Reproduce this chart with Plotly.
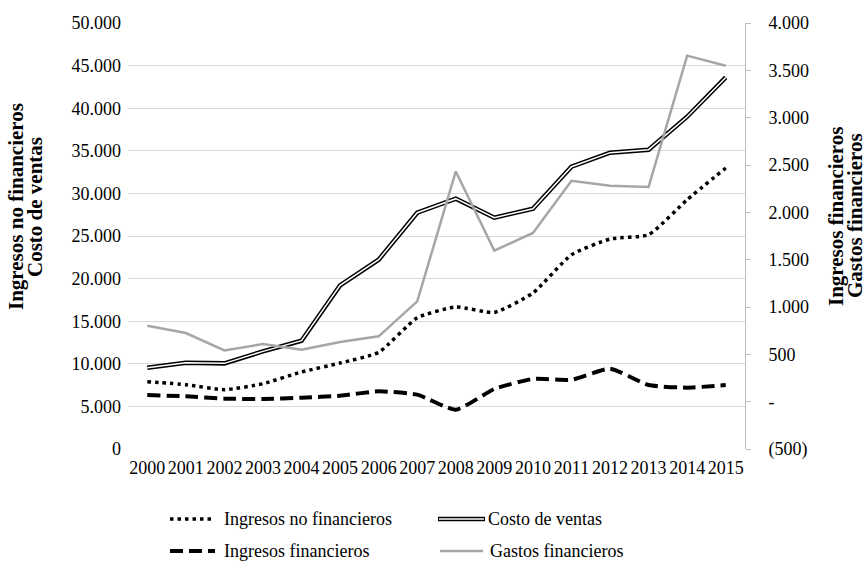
import plotly.graph_objects as go

years = [str(y) for y in range(2000, 2016)]
ingresos_no_fin = [7900, 7550, 6960, 7660, 9040, 10090, 11340, 15400, 16670, 16030, 18310, 22800, 24650, 25150, 29260, 32980]
costo_ventas = [9540, 10130, 10050, 11460, 12710, 19200, 22220, 27730, 29380, 27150, 28200, 33130, 34780, 35130, 39000, 43610]
ingresos_fin = [71, 56, 32, 28, 42, 63, 109, 74, -85, 134, 240, 232, 348, 176, 148, 176]
gastos_fin = [803, 725, 542, 609, 549, 630, 690, 1059, 2432, 1595, 1782, 2334, 2281, 2268, 3655, 3549]

left_ticks = list(range(0, 50001, 5000))
left_text = ["0"] + [f"{v:,}".replace(",", ".") for v in left_ticks[1:]]
right_ticks = list(range(-500, 4001, 500))
right_text = ["(500)", "-"] + [f"{v:,}".replace(",", ".") for v in right_ticks[2:]]

FONT = "Liberation Serif, Times New Roman, DejaVu Serif, serif"
GRAY = "#a6a6a6"

fig = go.Figure()
fig.add_trace(go.Scatter(x=years, y=ingresos_no_fin, mode="lines", name="Ingresos no financieros",
                         line=dict(color="black", width=3.5, dash="3.5px,4px", shape="spline", smoothing=0.5),
                         showlegend=False))
fig.add_trace(go.Scatter(x=years, y=costo_ventas, mode="lines", name="Costo de ventas",
                         line=dict(color="black", width=4.5), showlegend=False))
fig.add_trace(go.Scatter(x=years, y=costo_ventas, mode="lines", name="Costo de ventas (interior)",
                         line=dict(color="white", width=1.5), showlegend=False, hoverinfo="skip"))
fig.add_trace(go.Scatter(x=years, y=ingresos_fin, mode="lines", name="Ingresos financieros", yaxis="y2",
                         line=dict(color="black", width=4, dash="13px,6px", shape="spline", smoothing=0.5),
                         showlegend=False))
fig.add_trace(go.Scatter(x=years, y=gastos_fin, mode="lines", name="Gastos financieros", yaxis="y2",
                         line=dict(color=GRAY, width=2.5), showlegend=False))

fig.update_layout(
    width=868, height=562,
    margin=dict(l=128, r=123, t=23, b=113),
    paper_bgcolor="white", plot_bgcolor="white",
    font=dict(family=FONT, size=18, color="black"),
    xaxis=dict(type="category", range=[-0.5, 15.5], showgrid=False, showline=False, ticks="",
               tickfont=dict(family=FONT, size=18), ticklabelstandoff=6),
    yaxis=dict(range=[0, 50000], tickvals=left_ticks, ticktext=left_text,
               showgrid=True, gridcolor="#d9d9d9", gridwidth=1, zeroline=False,
               showline=False, ticks="", tickfont=dict(family=FONT, size=18), ticklabelstandoff=6),
    yaxis2=dict(range=[-500, 4000], tickvals=right_ticks, ticktext=right_text,
                overlaying="y", side="right", showgrid=False, zeroline=False,
                showline=True, linecolor="#bfbfbf", linewidth=1,
                ticks="outside", ticklen=5, tickcolor="#bfbfbf",
                tickfont=dict(family=FONT, size=18), ticklabelstandoff=14),
)

def px(x):
    return (x - 128) / 617

def py(y):
    return (449 - y) / 426

# axis titles
for text, xx, yy in [("<b>Ingresos no financieros</b>", 16, 207), ("<b>Costo de ventas</b>", 35, 207),
                     ("<b>Ingresos financieros</b>", 836, 216), ("<b>Gastos financieros</b>", 855, 216)]:
    fig.add_annotation(text=text, xref="paper", yref="paper", x=px(xx), y=py(yy),
                       textangle=-90, showarrow=False, font=dict(family=FONT, size=21),
                       xanchor="center", yanchor="middle")

# manual legend
legend_items = [
    ("Ingresos no financieros", 170, 215, 222, 519, dict(color="black", width=3.5, dash="3.5px,4px")),
    ("Ingresos financieros", 170, 215, 222, 551, dict(color="black", width=4, dash="13px,6px")),
    ("Costo de ventas", 438, 485, 486, 519, None),
    ("Gastos financieros", 440, 483, 488, 551, dict(color=GRAY, width=2.5)),
]
for label, x0, x1, tx, yy, ln in legend_items:
    if ln is None:
        fig.add_shape(type="line", xref="paper", yref="paper", x0=px(x0), x1=px(x1), y0=py(yy), y1=py(yy),
                      line=dict(color="black", width=4.5))
        fig.add_shape(type="line", xref="paper", yref="paper", x0=px(x0 + 1), x1=px(x1 - 1), y0=py(yy), y1=py(yy),
                      line=dict(color="white", width=1.5))
    else:
        fig.add_shape(type="line", xref="paper", yref="paper", x0=px(x0), x1=px(x1), y0=py(yy), y1=py(yy),
                      line=ln)
    fig.add_annotation(text=label, xref="paper", yref="paper", x=px(tx), y=py(yy),
                       xanchor="left", yanchor="middle", showarrow=False,
                       font=dict(family=FONT, size=18))

fig.write_html("out.html", config={"displayModeBar": False},
               post_script="document.body.style.margin='0px';document.body.style.overflow='hidden';")
